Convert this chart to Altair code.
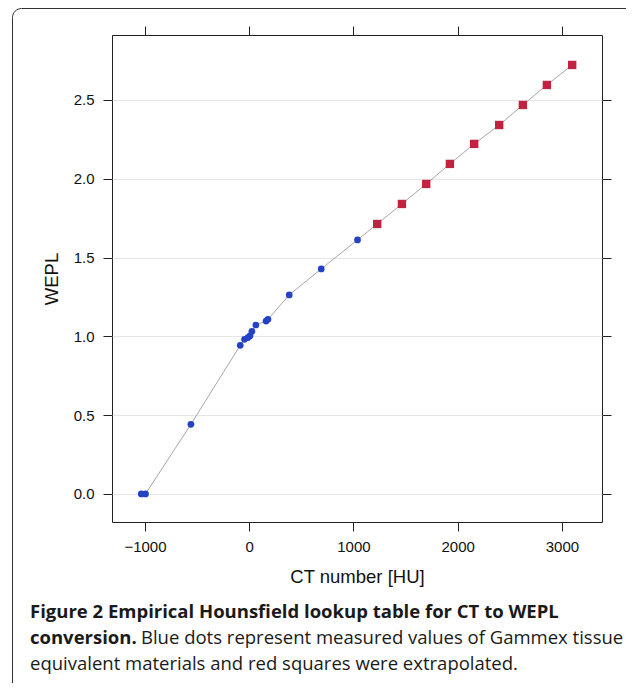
import altair as alt
import pandas as pd

# Measured (Gammex tissue equivalent materials)
measured_hu = [-1035, -995, -559, -86, -45, -12, 8, 26, 64, 162, 180, 384, 691, 1039]
measured_wepl = [0.0, 0.0, 0.442, 0.943, 0.981, 0.992, 1.003, 1.032, 1.072, 1.097, 1.108, 1.263, 1.428, 1.612]
# Extrapolated
extrap_hu = [1228, 1465, 1698, 1925, 2158, 2398, 2625, 2855, 3098]
extrap_wepl = [1.713, 1.840, 1.967, 2.094, 2.221, 2.341, 2.468, 2.595, 2.722]

x_ticks = [-1000, 0, 1000, 2000, 3000]
y_ticks = [0.0, 0.5, 1.0, 1.5, 2.0, 2.5]

caption_line1 = "Figure 2 Empirical Hounsfield lookup table for CT to WEPL"
caption_line2_bold = "conversion."
caption_line2 = "Blue dots represent measured values of Gammex tissue"
caption_line3 = "equivalent materials and red squares were extrapolated."

df = pd.DataFrame({
    "hu": measured_hu + extrap_hu,
    "wepl": measured_wepl + extrap_wepl,
    "kind": ["measured"] * len(measured_hu) + ["extrapolated"] * len(extrap_hu),
})

W, H = 490, 487
FONT = "Liberation Sans"
xs = alt.Scale(domain=[-1316, 3384], nice=False, zero=False)
ys = alt.Scale(domain=[-0.178, 2.912], nice=False, zero=False)

bottom_axis = alt.Axis(values=x_ticks, orient="bottom", format="d", grid=False, domain=False,
                       tickSize=9, tickColor="#222", labelPadding=8, labelFontSize=15,
                       labelFont=FONT, labelColor="#111", title="CT number [HU]",
                       titleFont=FONT, titleFontSize=18.5, titleFontWeight="normal",
                       titleColor="#111", titlePadding=13)
left_axis = alt.Axis(values=y_ticks, orient="left", format=".1f", grid=True,
                     gridColor="#e6e6e6", domain=False, tickSize=9, tickColor="#222",
                     labelPadding=9, labelFontSize=15, labelFont=FONT, labelColor="#111",
                     title="WEPL", titleFont=FONT, titleFontSize=18.5,
                     titleFontWeight="normal", titleColor="#111", titlePadding=12)
top_axis = alt.Axis(values=x_ticks, orient="top", grid=False, domain=False, labels=False,
                    tickSize=9, tickColor="#222", title=None)
right_axis = alt.Axis(values=y_ticks, orient="right", grid=False, domain=False, labels=False,
                      tickSize=9, tickColor="#222", title=None)

base = alt.Chart(df)

line = base.mark_line(color="#a8a8a8", strokeWidth=1).encode(
    x=alt.X("hu:Q", scale=xs, axis=bottom_axis),
    y=alt.Y("wepl:Q", scale=ys, axis=left_axis),
    order="hu:Q",
)

dots = base.transform_filter(alt.datum.kind == "measured").mark_circle(
    color="#2442c4", opacity=1, size=45
).encode(
    x=alt.X("hu:Q", scale=xs, axis=None),
    y=alt.Y("wepl:Q", scale=ys, axis=None),
)

squares = base.transform_filter(alt.datum.kind == "extrapolated").mark_square(
    color="#c1223f", opacity=1, size=70
).encode(
    x=alt.X("hu:Q", scale=xs, axis=top_axis),
    y=alt.Y("wepl:Q", scale=ys, axis=right_axis),
)

one = alt.Data(values=[{}])

frame = alt.Chart(one).mark_rect(
    fillOpacity=0, stroke="#333", strokeWidth=1, cornerRadius=9
).encode(
    x=alt.value(-99.5), x2=alt.value(700), y=alt.value(-26.5), y2=alt.value(900)
)

cap_style = dict(align="left", baseline="middle", font="Open Sans", fontSize=18.5, color="#1a1a1a")
cap1 = alt.Chart(one).mark_text(text=caption_line1, fontWeight="bold", **cap_style).encode(
    x=alt.value(-82), y=alt.value(577))
cap2a = alt.Chart(one).mark_text(text=caption_line2_bold, fontWeight="bold", **cap_style).encode(
    x=alt.value(-82), y=alt.value(603))
cap2b = alt.Chart(one).mark_text(text=caption_line2, fontWeight="normal", **cap_style).encode(
    x=alt.value(29), y=alt.value(603))
cap3 = alt.Chart(one).mark_text(text=caption_line3, fontWeight="normal", **cap_style).encode(
    x=alt.value(-82), y=alt.value(629))

chart = alt.layer(
    frame, line, dots, squares, cap1, cap2a, cap2b, cap3
).resolve_axis(
    x="independent", y="independent"
).properties(
    width=W, height=H,
    autosize=alt.AutoSizeParams(type="none"),
    padding={"left": 104, "top": 27, "right": 24, "bottom": 161},
).configure_view(
    stroke="#222", strokeWidth=1
)

chart.save("out.html", embed_options={"renderer": "svg", "actions": False})
